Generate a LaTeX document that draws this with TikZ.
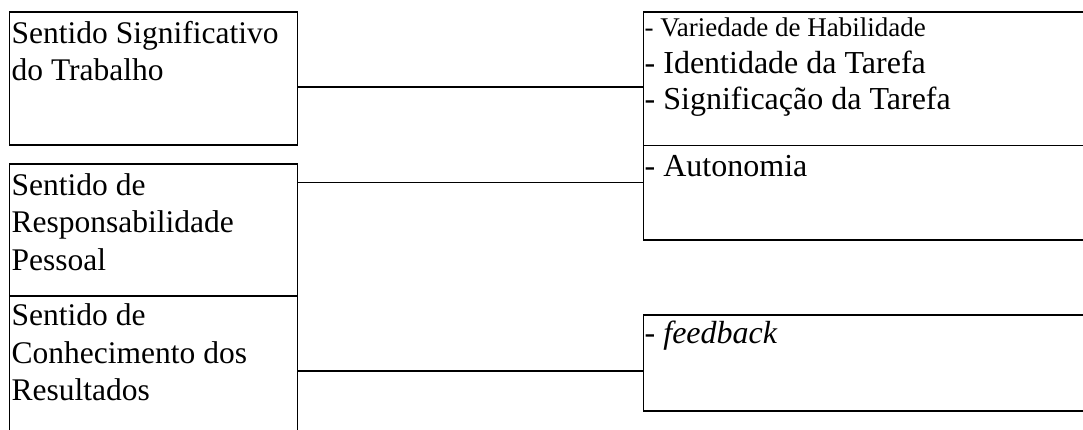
\documentclass[tikz,border=0pt]{standalone}
\usepackage{fontspec}
\setmainfont{Liberation Serif}
\begin{document}
\begin{tikzpicture}[x=1pt,y=-1pt,
  box/.style={rectangle,inner sep=0pt,outer sep=0pt,anchor=north west},
  frame/.style={line width=1.8pt,line join=miter},
  link/.style={line width=1.8pt},
  ltext/.style={anchor=base west,inner sep=0pt,font=\fontsize{31.5}{37}\selectfont},
  rtext/.style={anchor=base west,inner sep=0pt,font=\fontsize{32}{37}\selectfont},
  stext/.style={anchor=base west,inner sep=0pt,font=\fontsize{27}{30}\selectfont}]
\useasboundingbox (0,0) rectangle (1083,429);
\fill[white] (0,0) rectangle (1083,429);
% left boxes
\node[box,minimum width=288pt,minimum height=133pt] (L1) at (9.5,12) {};
\node[box,minimum width=288pt,minimum height=132pt] (L2) at (9.5,164) {};
\node[box,minimum width=288pt,minimum height=140pt] (L3) at (9.5,296) {};
% right boxes
\node[box,minimum width=445pt,minimum height=133.5pt] (R1) at (643.5,12) {};
\node[box,minimum width=445pt,minimum height=94.5pt] (R2) at (643.5,145.5) {};
\node[box,minimum width=445pt,minimum height=96pt] (R3) at (643.5,315) {};
\draw[frame] (L1.north west) rectangle (L1.south east);
\draw[frame] (L2.north west) rectangle (L2.south east);
\draw[frame] (L3.south west) -- (L3.north west) -- (L3.north east) -- (L3.south east);
\draw[frame] (R1.north east) -- (R1.north west) -- (R1.south west) -- (R1.south east);
\draw[frame] (R2.north east) -- (R2.north west) -- (R2.south west) -- (R2.south east);
\draw[frame] (R3.north east) -- (R3.north west) -- (R3.south west) -- (R3.south east);
% connectors
\coordinate (y1) at (0,87);
\coordinate (y2) at (0,182.5);
\coordinate (y3) at (0,371);
\draw[link] (L1.east |- y1) -- (R1.west |- y1);
\draw[link] (L2.east |- y2) -- (R2.west |- y2);
\draw[link] (L3.east |- y3) -- (R3.west |- y3);
% left texts
\node[ltext] (t1a) at (11.5,43.3) {Sentido Significativo};
\node[ltext] (t1b) at (11.5,80) {do Trabalho};
\node[ltext] (t2a) at (11.5,195) {Sentido de};
\node[ltext] (t2b) at (11.5,232.7) {Responsabilidade};
\node[ltext] (t2c) at (11.5,270) {Pessoal};
\node[ltext] (t3a) at (11.5,325.7) {Sentido de};
\node[ltext] (t3b) at (11.5,363.3) {Conhecimento dos};
\node[ltext] (t3c) at (11.5,400) {Resultados};
% right texts
\node[stext] (r1a) at (644.5,36.7) {- Variedade de Habilidade};
\node[rtext] (r1b) at (644.5,73.3) {- Identidade da Tarefa};
\node[rtext] (r1c) at (644.5,109.5) {- Significação da Tarefa};
\node[rtext] (r2a) at (644.5,176.7) {- Autonomia};
\node[rtext] (r3a) at (644.5,343) {- \textit{feedback}};
\end{tikzpicture}
\end{document}
